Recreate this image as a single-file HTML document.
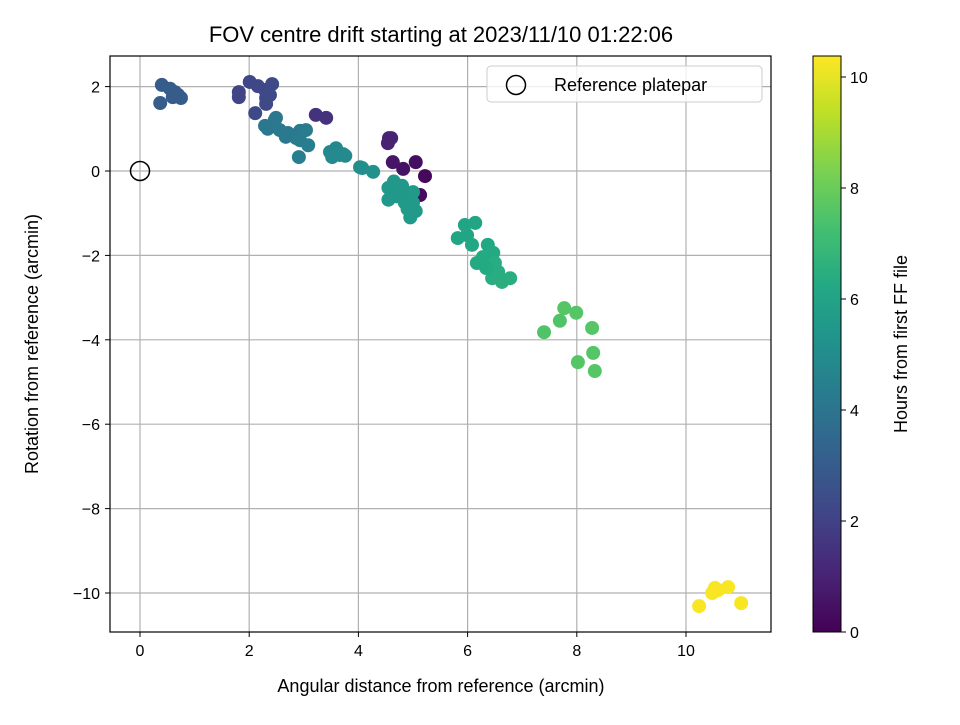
<!DOCTYPE html>
<html><head><meta charset="utf-8">
<style>
body{margin:0;background:#fff;font-family:"Liberation Sans",sans-serif;}
svg text{font-family:"Liberation Sans",sans-serif;fill:#000;}
</style></head>
<body>
<svg id="chart" width="960" height="720" xmlns="http://www.w3.org/2000/svg">
<defs>
<linearGradient id="viridis" x1="0" y1="1" x2="0" y2="0">
<stop offset="0" stop-color="#440154"/><stop offset="0.1" stop-color="#482475"/>
<stop offset="0.2" stop-color="#414487"/><stop offset="0.3" stop-color="#355f8d"/>
<stop offset="0.4" stop-color="#2a788e"/><stop offset="0.5" stop-color="#21918c"/>
<stop offset="0.6" stop-color="#22a884"/><stop offset="0.7" stop-color="#44bf70"/>
<stop offset="0.8" stop-color="#7ad151"/><stop offset="0.9" stop-color="#bddf26"/>
<stop offset="1" stop-color="#fde725"/>
</linearGradient>
<clipPath id="clip"><rect x="110" y="56" width="661" height="576"/></clipPath>
</defs>
<rect x="0" y="0" width="960" height="720" fill="#fff"/>
<text x="441" y="42" font-size="22" text-anchor="middle">FOV centre drift starting at 2023/11/10 01:22:06</text>
<g id="grid"></g>
<g id="points" clip-path="url(#clip)"></g>
<rect x="110" y="56" width="661" height="576" fill="none" stroke="#000" stroke-width="1.2"/>
<g id="ticks"></g>
<text x="441" y="692" font-size="18" text-anchor="middle">Angular distance from reference (arcmin)</text>
<text transform="translate(38,344) rotate(-90)" font-size="18" text-anchor="middle">Rotation from reference (arcmin)</text>
<g>
<rect x="487" y="66" width="275" height="36" rx="4" fill="#fff" fill-opacity="0.8" stroke="#ccc"/>
<circle cx="516" cy="85" r="9.5" fill="none" stroke="#000" stroke-width="1.5"/>
<text x="554" y="91" font-size="18">Reference platepar</text>
</g>
<rect x="813" y="56" width="28" height="576" fill="url(#viridis)" stroke="#000" stroke-width="1"/>
<g id="cbticks"></g>
<text transform="translate(907,344) rotate(-90)" font-size="18" text-anchor="middle">Hours from first FF file</text>
</svg>
<script>
const xs = [0.40,0.37,0.55,0.64,0.70,0.75,0.60,0.66,
1.81,1.81,2.01,2.16,2.29,2.42,2.38,2.31,2.11,2.31,
2.29,2.47,2.34,2.56,2.71,2.86,2.93,3.04,2.93,2.67,3.08,2.91,2.49,
3.22,3.41,
3.48,3.59,3.66,3.72,3.52,3.76,4.03,4.27,4.07,
4.56,4.54,4.60,4.63,5.05,5.22,4.82,5.13,
4.55,4.60,4.65,4.75,4.85,4.95,5.00,4.90,4.95,4.70,4.80,5.05,4.55,4.85,5.00,
6.14,5.95,5.82,5.99,6.08,6.37,6.17,6.28,6.47,6.50,6.45,6.63,6.78,6.56,6.34,
7.40,7.69,7.77,7.99,8.28,8.02,8.30,8.33,
10.24,10.48,10.53,10.59,10.77,11.01,10.51];
const ys = [2.04,1.61,1.95,1.87,1.80,1.73,1.75,1.78,
1.87,1.75,2.11,2.01,1.92,2.06,1.80,1.59,1.37,1.73,
1.07,1.21,1.00,0.97,0.90,0.78,0.95,0.97,0.73,0.81,0.61,0.33,1.26,
1.33,1.26,
0.45,0.54,0.38,0.40,0.33,0.36,0.09,-0.02,0.07,
0.78,0.66,0.78,0.21,0.21,-0.12,0.05,-0.57,
-0.68,-0.40,-0.25,-0.45,-0.55,-0.70,-0.50,-0.90,-1.10,-0.60,-0.35,-0.95,-0.40,-0.75,-0.75,
-1.23,-1.28,-1.59,-1.52,-1.75,-1.75,-2.18,-2.04,-1.94,-2.18,-2.54,-2.63,-2.54,-2.39,-2.30,
-3.82,-3.55,-3.25,-3.36,-3.72,-4.53,-4.31,-4.74,
-10.31,-10.0,-9.88,-9.93,-9.86,-10.24,-9.95];
const hours = [3.0,3.0,3.0,3.0,3.0,3.0,3.0,3.0,
2.1,2.1,2.2,2.2,2.2,2.3,2.3,2.3,2.3,2.3,
4.1,4.1,4.1,4.2,4.2,4.2,4.2,4.3,4.3,4.2,4.4,4.4,4.1,
1.5,1.5,
4.8,4.8,4.8,4.9,4.9,4.9,5.1,5.2,5.1,
1.0,1.0,1.0,0.6,0.4,0.2,0.5,0.3,
5.5,5.5,5.5,5.6,5.6,5.6,5.6,5.6,5.6,5.5,5.5,5.6,5.5,5.6,5.6,
6.1,6.1,6.1,6.1,6.2,6.2,6.3,6.3,6.3,6.4,6.4,6.5,6.5,6.4,6.3,
7.5,7.5,7.6,7.6,7.6,7.6,7.6,7.6,
10.3,10.3,10.3,10.3,10.3,10.3,10.3];
const xTicks = [0,2,4,6,8,10];
const yTicks = [2,0,-2,-4,-6,-8,-10];
const cbTicks = [0,2,4,6,8,10];

const NS='http://www.w3.org/2000/svg';
const X = v => 140 + v*54.6;
const Y = v => 171 - v*42.2;
const CB = v => 632 - v*55.5;
const vir=[[68,1,84],[72,36,117],[65,68,135],[53,95,141],[42,120,142],[33,145,140],[34,168,132],[68,191,112],[122,209,81],[189,223,38],[253,231,37]];
function color(h){let t=Math.max(0,Math.min(1,h/10.38))*10;let i=Math.min(9,Math.floor(t));let f=t-i;
 const c=vir[i].map((a,k)=>Math.round(a+(vir[i+1][k]-a)*f));return `rgb(${c})`;}
function mk(tag,attrs,parent){const e=document.createElementNS(NS,tag);for(const k in attrs)e.setAttribute(k,attrs[k]);parent.appendChild(e);return e;}
const grid=document.getElementById('grid'),ticks=document.getElementById('ticks'),pts=document.getElementById('points'),cbt=document.getElementById('cbticks');
xTicks.forEach(v=>{
 const g=mk('line',{x1:X(v),x2:X(v),y1:56,y2:632,stroke:'#b0b0b0','stroke-width':1.2},grid);
 
 
 mk('line',{x1:X(v),x2:X(v),y1:632,y2:637,stroke:'#000'},ticks);
 const t=mk('text',{x:X(v),y:656,'font-size':16,'text-anchor':'middle'},ticks);
 t.textContent=String(v).replace('-','\u2212');
 
 
});
yTicks.forEach(v=>{
 const g=mk('line',{x1:110,x2:771,y1:Y(v),y2:Y(v),stroke:'#b0b0b0','stroke-width':1.2},grid);
 
 
 mk('line',{x1:105,x2:110,y1:Y(v),y2:Y(v),stroke:'#000'},ticks);
 const t=mk('text',{x:100,y:Y(v)+6,'font-size':16,'text-anchor':'end'},ticks);
 t.textContent=String(v).replace('-','\u2212');
 
 
});
cbTicks.forEach(v=>{
 mk('line',{x1:841,x2:846,y1:CB(v),y2:CB(v),stroke:'#000'},cbt);
 const t=mk('text',{x:850,y:CB(v)+6,'font-size':16},cbt);
 t.textContent=v;
 
 
});
xs.forEach((x,i)=>{
 const c=mk('circle',{cx:X(x),cy:Y(ys[i]),r:7,fill:color(hours[i])},pts);
 
 
});
const ref=mk('circle',{cx:X(0),cy:Y(0),r:9.5,fill:'none',stroke:'#000','stroke-width':1.5},pts);


</script>
</body></html>
